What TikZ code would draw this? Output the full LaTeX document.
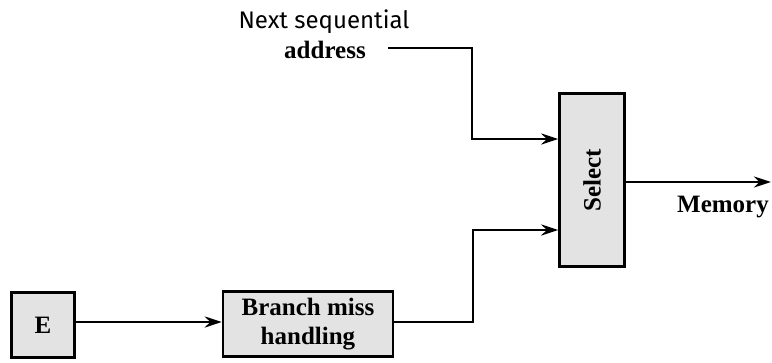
\documentclass[tikz,border=0pt]{standalone}
\usepackage{fontspec}
\setmainfont{Liberation Serif}
\setsansfont{Fira Sans}
\usetikzlibrary{arrows.meta}
\begin{document}
\begin{tikzpicture}[x=1pt,y=-1pt,
  blk/.style={draw=black,line width=2.4pt,fill=gray!22,inner sep=0pt,font=\bfseries\fontsize{25}{29}\selectfont},
  wire/.style={line width=2.6pt},
  arr/.style={wire,-{Stealth[length=17pt,width=11pt]}},
  lbl/.style={font=\bfseries\fontsize{25}{29}\selectfont}]
\useasboundingbox (0,0) rectangle (772,362);
\node[blk,minimum width=63pt,minimum height=65pt] (E) at (43,325) {E};
\node[blk,minimum width=170pt,minimum height=65pt,align=center] (B) at (308,324) {Branch miss\\handling};
\node[blk,minimum width=65pt,minimum height=173pt] (S) at (592,180) {};
\node[lbl,rotate=90] (St) at (S.center) {Select};
\node[font=\sffamily\fontsize{24}{28}\selectfont] (N) at (324,22) {Next sequential};
\node[lbl,anchor=base] (A) at (325,58) {address};
\coordinate (Aend) at (388,48);
\node[lbl] (M) at (723,207) {Memory};
\coordinate (Out) at (771,182);
\draw[arr] (E.east |- 0,322) -- (B.west |- 0,322);
\draw[arr] (Aend) -- (472,48) |- (S.west |- 0,139);
\draw[arr] (B.east |- 0,322) -- (473,322) |- (S.west |- 0,230);
\draw[arr] (S.east |- 0,182) -- (Out);
\end{tikzpicture}
\end{document}
